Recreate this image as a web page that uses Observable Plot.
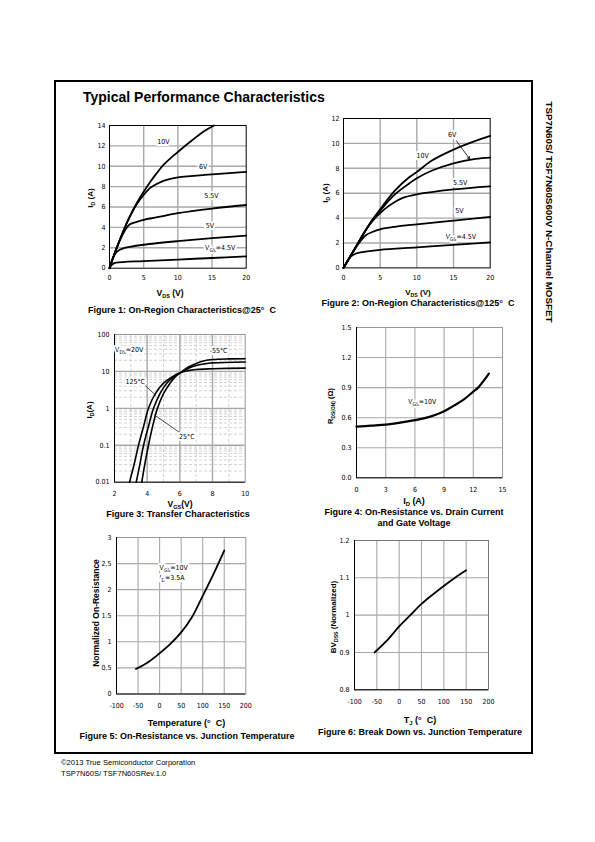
<!DOCTYPE html>
<html><head><meta charset="utf-8">
<script src="https://cdn.jsdelivr.net/npm/d3@7"></script>
<script src="https://cdn.jsdelivr.net/npm/@observablehq/plot@0.6"></script>
<style>
body{margin:0;background:#fff}
#page{position:relative;width:595px;height:842px;background:#fff;overflow:hidden;font-family:"Liberation Sans",Arial,sans-serif;color:#000}
.t{position:absolute;white-space:nowrap;line-height:1;transform:translate(-50%,-50%)}
.t.l{transform:translate(0,-50%)}
.t.r{transform:translate(-50%,-50%) rotate(-90deg)}
.t.r90{transform:translate(-50%,-50%) rotate(90deg)}
.t sub{font-size:65%;vertical-align:baseline;position:relative;top:0.35em}
</style></head><body><div id="page"></div>
<script>
// ---------- DATA ----------
// Figure 1: On-Region @25C  (VDS [V], ID [A])
const fig1_xTicks = [0,5,10,15,20];
const fig1_yTicks = [0,2,4,6,8,10,12,14];
const fig1_vgs10  = [[0,0],[1,1.9],[2,3.6],[3,5.1],[4,6.4],[5,7.5],[6,8.5],[7,9.4],[8,10.2],[10,11.4],[12,12.5],[14,13.5],[15.3,14]];
const fig1_vgs6   = [[0,0],[1,1.9],[2,3.6],[3,5.1],[4,6.3],[5,7.2],[6,7.9],[7,8.3],[8,8.6],[10,8.9],[15,9.2],[20,9.45]];
const fig1_vgs55  = [[0,0],[1,1.9],[2,3.4],[2.5,3.95],[3,4.3],[4,4.55],[5,4.75],[7,5.0],[10,5.4],[15,5.85],[20,6.2]];
const fig1_vgs5   = [[0,0],[0.5,1.0],[1,1.55],[1.5,1.8],[2,1.95],[3,2.1],[5,2.3],[10,2.65],[15,2.95],[20,3.2]];
const fig1_vgs45  = [[0,0],[0.3,0.3],[0.7,0.5],[1,0.55],[5,0.7],[10,0.85],[15,1.0],[20,1.15]];
const fig1_labels = [["10V",7.9,12.4],["6V",13.7,10.0],["5.5V",14.9,7.1],["5V",14.7,4.2],["V_{GS}=4.5V",16.2,2.0]];

// Figure 2: On-Region @125C
const fig2_xTicks = [0,5,10,15,20];
const fig2_yTicks = [0,2,4,6,8,10,12];
const fig2_vgs10  = [[0,0],[1,1.0],[2,2.0],[3,3.0],[4,3.9],[5,4.7],[7,6.2],[9,7.3],[10,7.7],[12,8.6],[15,9.5],[18,10.2],[20,10.6]];
const fig2_vgs6   = [[0,0],[1,1.0],[2,2.0],[3,3.0],[4,3.9],[5,4.6],[7,5.9],[9,6.8],[10,7.2],[12,7.8],[15,8.4],[18,8.75],[20,8.85]];
const fig2_vgs55  = [[0,0],[1,1.0],[2,2.0],[3,3.0],[4,3.8],[5,4.4],[6,4.9],[7,5.3],[8,5.6],[10,5.9],[15,6.3],[20,6.55]];
const fig2_vgs5   = [[0,0],[1,1.0],[2,1.9],[3,2.6],[4,2.9],[5,3.1],[7,3.3],[10,3.5],[15,3.8],[20,4.1]];
const fig2_vgs45  = [[0,0],[0.5,0.5],[1,0.9],[1.5,1.1],[2,1.2],[3,1.3],[5,1.45],[10,1.65],[15,1.85],[20,2.05]];
const fig2_labels = [["6V",14.8,10.7],["10V",10.8,9.0],["5.5V",15.9,6.8],["5V",15.8,4.6],["V_{GS}=4.5V",16.0,2.5]];
const fig2_arrow  = [[15.4,10.2,17.2,8.75]];

// Figure 3: Transfer characteristics (VGS [V], ID [A], log)
const fig3_xTicks = [2,4,6,8,10];
const fig3_yTicks = [0.01,0.1,1,10,100];
const fig3_minorSteps = [2,3,4,5,6,7,8,9];
const fig3_minorX = [3,5,7,9];
const fig3_t125 = [[2.92,0.01],[3.2,0.03],[3.47,0.1],[3.8,0.35],[4.08,1],[4.5,2.5],[5,4.8],[5.5,7],[6,9.2],[6.5,10.5],[7,11.3],[8,11.8],[10,12.3]];
const fig3_t25  = [[3.33,0.01],[3.55,0.03],[3.78,0.1],[4.1,0.35],[4.39,1],[4.8,2.6],[5.2,4.8],[5.6,7],[6,9],[6.5,12],[7,14.5],[7.5,16],[8,17],[10,18]];
const fig3_tm55 = [[3.67,0.01],[3.85,0.03],[4.08,0.1],[4.35,0.35],[4.63,1],[5,2.5],[5.4,4.8],[5.7,7],[6,9],[6.5,13],[7,16.5],[7.5,19.5],[8,21],[9,21.8],[10,22]];
const fig3_labels = [["V_{DS}=20V",2.9,38],["-55°C",8.37,37],["125°C",3.27,5.1],["25°C",6.43,0.166]];
const fig3_leaders = [[3.88,4.15,4.55,2.2],[6.02,0.217,4.43,0.667]];

// Figure 4: RDS(on) vs ID
const fig4_xTicks = [0,3,6,9,12,15];
const fig4_yTicks = [0,0.3,0.6,0.9,1.2,1.5];
const fig4_rds = [[0,0.51],[1.5,0.52],[3,0.53],[4.5,0.55],[6,0.575],[7,0.595],[8,0.625],[9,0.665],[10,0.72],[11,0.78],[12,0.86],[12.5,0.9],[13,0.96],[13.6,1.04]];
const fig4_labels = [["V_{GS}=10V",6.76,0.758]];

// Figure 5: Normalized RDS(on) vs Tj
const fig5_xTicks = [-100,-50,0,50,100,150,200];
const fig5_yTicks = [0,0.5,1,1.5,2,2.5,3];
const fig5_rn = [[-55,0.48],[-25,0.62],[0,0.78],[25,0.96],[50,1.18],[75,1.47],[100,1.88],[125,2.3],[150,2.75]];
const fig5_labels = [["V_{GS}=10V",0,2.42],["I_{D}=3.5A",0,2.22]];

// Figure 6: BVDSS vs Tj
const fig6_xTicks = [-100,-50,0,50,100,150,200];
const fig6_yTicks = [0.8,0.9,1,1.1,1.2];
const fig6_bv = [[-55,0.90],[-25,0.935],[0,0.97],[25,1.0],[50,1.03],[75,1.055],[100,1.078],[125,1.1],[150,1.12]];

// ---------- HELPERS ----------
const page = document.getElementById("page");
const NARROW = '"Liberation Sans Narrow","DejaVu Sans Condensed","Arial Narrow","Liberation Sans",Arial,sans-serif';
const GRID = "#a8a8a8";

function rows(series){ return series.flatMap(([s,pts])=>pts.map(([x,y])=>({x,y,s}))); }
function lab(arr){ return arr.map(([t,x,y])=>({t,x,y})); }

function subify(svg){
  svg.querySelectorAll("text").forEach(t=>{
    if(t.children.length===0 && /_\{/.test(t.textContent)){
      const parts=t.textContent.split(/_\{([^}]*)\}/); t.textContent="";
      let prevSub=false;
      parts.forEach((p,i)=>{
        if(!p) return;
        const ts=document.createElementNS("http://www.w3.org/2000/svg","tspan");
        ts.textContent=p;
        if(i%2===1){ts.setAttribute("font-size","5");ts.setAttribute("dy","2");prevSub=true;}
        else if(prevSub){ts.setAttribute("dy","-2");prevSub=false;}
        t.appendChild(ts);
      });
    }
  });
}

function chart(c){
  const ml=40,mr=20,mt=15,mb=30;
  const w=c.x1-c.x0+ml+mr, h=c.y1-c.y0+mt+mb;
  const p=Plot.plot({
    width:w,height:h,marginLeft:ml,marginRight:mr,marginTop:mt,marginBottom:mb,
    style:{fontFamily:NARROW,fontSize:"7px",background:"transparent",overflow:"visible",color:"#000"},
    x:{domain:c.xd,ticks:c.xt,tickFormat:c.xf||(d=>String(d)),tickSize:0,tickPadding:c.xp??7,label:null},
    y:{type:c.yType||"linear",domain:c.yd,ticks:c.yt,tickFormat:c.yf||(d=>String(d)),tickSize:0,tickPadding:c.yp??4,label:null},
    marks:c.marks
  });
  p.style.position="absolute"; p.style.left=(c.x0-ml)+"px"; p.style.top=(c.y0-mt)+"px";
  page.appendChild(p); subify(p);
}

function text(html,x,y,o={}){
  const d=document.createElement("div");
  d.className="t"+(o.cls?" "+o.cls:"");
  d.innerHTML=html;
  d.style.left=x+"px"; d.style.top=y+"px";
  d.style.fontSize=(o.size||9)+"px";
  d.style.fontWeight=o.bold===false?"normal":"bold";
  page.appendChild(d);
}

function curves(series,sw){ return Plot.line(rows(series),{x:"x",y:"y",z:"s",stroke:"#000",strokeWidth:sw||1.8,curve:"catmull-rom"}); }
function labels(arr,o={}){ return Plot.text(lab(arr),{x:"x",y:"y",text:"t",fontSize:7,fill:"#000",stroke:"#fff",strokeWidth:4,textAnchor:o.anchor||"middle"}); }

// ---------- PAGE FRAME ----------
const box=document.createElement("div");
Object.assign(box.style,{position:"absolute",left:"54px",top:"80px",width:"479px",height:"674px",border:"2px solid #000",boxSizing:"border-box"});
page.appendChild(box);
text("Typical Performance Characteristics",83,97,{cls:"l",size:14});
text("TSP7N60S/ TSF7N60S600V N-Channel MOSFET",549,212,{cls:"r90",size:9.8});
text("©2013 True Semiconductor Corporation",61,763,{cls:"l",size:7.6,bold:false});
text("TSP7N60S/ TSF7N60SRev.1.0",61,774,{cls:"l",size:7.6,bold:false});

// ---------- FIGURE 1 ----------
chart({x0:109,x1:245.7,y0:125,y1:267.7,xd:[0,20],yd:[0,14],xt:fig1_xTicks,yt:fig1_yTicks,xp:7,yp:4,
  marks:[
    Plot.ruleX(fig1_xTicks.slice(1,-1),{stroke:GRID,strokeWidth:1.4}),
    Plot.ruleY(fig1_yTicks.slice(1,-1),{stroke:GRID,strokeWidth:1.4}),
    Plot.frame({stroke:"#000",strokeWidth:1}),
    curves([["10",fig1_vgs10],["6",fig1_vgs6],["5.5",fig1_vgs55],["5",fig1_vgs5],["4.5",fig1_vgs45]]),
    labels(fig1_labels)
  ]});
text("I<sub>D</sub> (A)",91,198,{cls:"r",size:8});
text("V<sub>DS</sub> (V)",170,293,{size:8.5});
text("Figure 1: On-Region Characteristics@25°&nbsp; C",182,310,{size:9});

// ---------- FIGURE 2 ----------
chart({x0:343.3,x1:490,y0:118.3,y1:267.7,xd:[0,20],yd:[0,12],xt:fig2_xTicks,yt:fig2_yTicks,xp:7,yp:4,
  marks:[
    Plot.ruleX(fig2_xTicks.slice(1,-1),{stroke:GRID,strokeWidth:1.4}),
    Plot.ruleY(fig2_yTicks.slice(1,-1),{stroke:GRID,strokeWidth:1.4}),
    Plot.frame({stroke:"#000",strokeWidth:1}),
    curves([["10",fig2_vgs10],["6",fig2_vgs6],["5.5",fig2_vgs55],["5",fig2_vgs5],["4.5",fig2_vgs45]]),
    labels(fig2_labels),
    Plot.arrow(fig2_arrow.map(([a,b,c,d])=>({a,b,c,d})),{x1:"a",y1:"b",x2:"c",y2:"d",stroke:"#000",strokeWidth:0.8,headLength:5})
  ]});
text("I<sub>D</sub> (A)",326,193,{cls:"r",size:8});
text("V<sub>DS</sub> (V)",418,293,{size:8});
text("Figure 2: On-Region Characteristics@125°&nbsp; C",418,303,{size:9});

// ---------- FIGURE 3 ----------
const fig3_minorY = fig3_yTicks.slice(0,-1).flatMap(d=>fig3_minorSteps.map(m=>d*m));
chart({x0:114.3,x1:245,y0:334,y1:481.7,xd:[2,10],yd:[0.01,100],yType:"log",xt:fig3_xTicks,yt:fig3_yTicks,xp:9,yp:5,
  marks:[
    Plot.ruleY(fig3_minorY,{stroke:"#c8c8c8",strokeWidth:0.8,strokeDasharray:"3,2"}),
    Plot.ruleX(fig3_minorX,{stroke:"#c8c8c8",strokeWidth:0.8,strokeDasharray:"3,2"}),
    Plot.ruleX(fig3_xTicks.slice(1,-1),{stroke:GRID,strokeWidth:1.4}),
    Plot.ruleY(fig3_yTicks.slice(1,-1),{stroke:GRID,strokeWidth:1.4}),
    Plot.frame({stroke:"#999",strokeWidth:1}),
    Plot.ruleX([2],{stroke:"#000"}),Plot.ruleY([0.01],{stroke:"#000"}),
    curves([["125",fig3_t125],["25",fig3_t25],["-55",fig3_tm55]],1.6),
    Plot.link(fig3_leaders.map(([a,b,c,d])=>({a,b,c,d})),{x1:"a",y1:"b",x2:"c",y2:"d",stroke:"#000",strokeWidth:0.7}),
    labels(fig3_labels)
  ]});
text("I<sub>D</sub>(A)",90,410,{cls:"r",size:8});
text("V<sub>GS</sub>(V)",180,504,{size:8.5});
text("Figure 3: Transfer Characteristics",178,514,{size:9});

// ---------- FIGURE 4 ----------
chart({x0:356,x1:502,y0:327,y1:477.3,xd:[0,15],yd:[0,1.5],xt:fig4_xTicks,yt:fig4_yTicks,yf:d3.format(".1f"),xp:9,yp:5,
  marks:[
    Plot.ruleX(fig4_xTicks.slice(1,-1),{stroke:GRID,strokeWidth:1.1}),
    Plot.ruleY(fig4_yTicks.slice(1,-1),{stroke:GRID,strokeWidth:1.1}),
    Plot.frame({stroke:"#999",strokeWidth:1}),
    Plot.ruleX([0],{stroke:"#000"}),Plot.ruleY([0],{stroke:"#000"}),
    curves([["r",fig4_rds]],2.2),
    labels(fig4_labels)
  ]});
text("R<sub>DS(ON)</sub> (Ω)",331,406,{cls:"r",size:7.5});
text("I<sub>D</sub> (A)",414,500.5,{size:9});
text("Figure 4: On-Resistance vs. Drain Current",414,512,{size:9});
text("and Gate Voltage",414,523,{size:9});

// ---------- FIGURE 5 ----------
chart({x0:115.7,x1:245,y0:536.5,y1:693,xd:[-100,200],yd:[0,3],xt:fig5_xTicks,yt:fig5_yTicks,xp:9,yp:5,
  marks:[
    Plot.ruleX(fig5_xTicks.slice(1,-1),{stroke:GRID,strokeWidth:1.1}),
    Plot.ruleY(fig5_yTicks.slice(1,-1),{stroke:GRID,strokeWidth:1.1}),
    Plot.frame({stroke:"#999",strokeWidth:1}),
    Plot.ruleX([-100],{stroke:"#000"}),Plot.ruleY([0],{stroke:"#000"}),
    curves([["r",fig5_rn]],1.8),
    labels(fig5_labels,{anchor:"start"})
  ]});
text("Normalized On-Resistance",96,613,{cls:"r",size:8.5});
text("Temperature (°&nbsp; C)",186.5,723,{size:9});
text("Figure 5: On-Resistance vs. Junction Temperature",187,736,{size:9});

// ---------- FIGURE 6 ----------
chart({x0:354.3,x1:488.3,y0:540,y1:689.3,xd:[-100,200],yd:[0.8,1.2],xt:fig6_xTicks,yt:fig6_yTicks,xp:9,yp:5,
  marks:[
    Plot.ruleX(fig6_xTicks.slice(1,-1),{stroke:GRID,strokeWidth:1.1}),
    Plot.ruleY(fig6_yTicks.slice(1,-1),{stroke:GRID,strokeWidth:1.1}),
    Plot.frame({stroke:"#777",strokeWidth:1}),
    Plot.ruleX([-100],{stroke:"#000"}),Plot.ruleY([0.8],{stroke:"#000"}),
    curves([["b",fig6_bv]],1.8)
  ]});
text("BV<sub>DSS</sub> (Normalized)",334,617,{cls:"r",size:8});
text("T<sub>J</sub> (°&nbsp; C)",420,719.5,{size:9});
text("Figure 6: Break Down vs. Junction Temperature",420,732,{size:9});
</script></body></html>
